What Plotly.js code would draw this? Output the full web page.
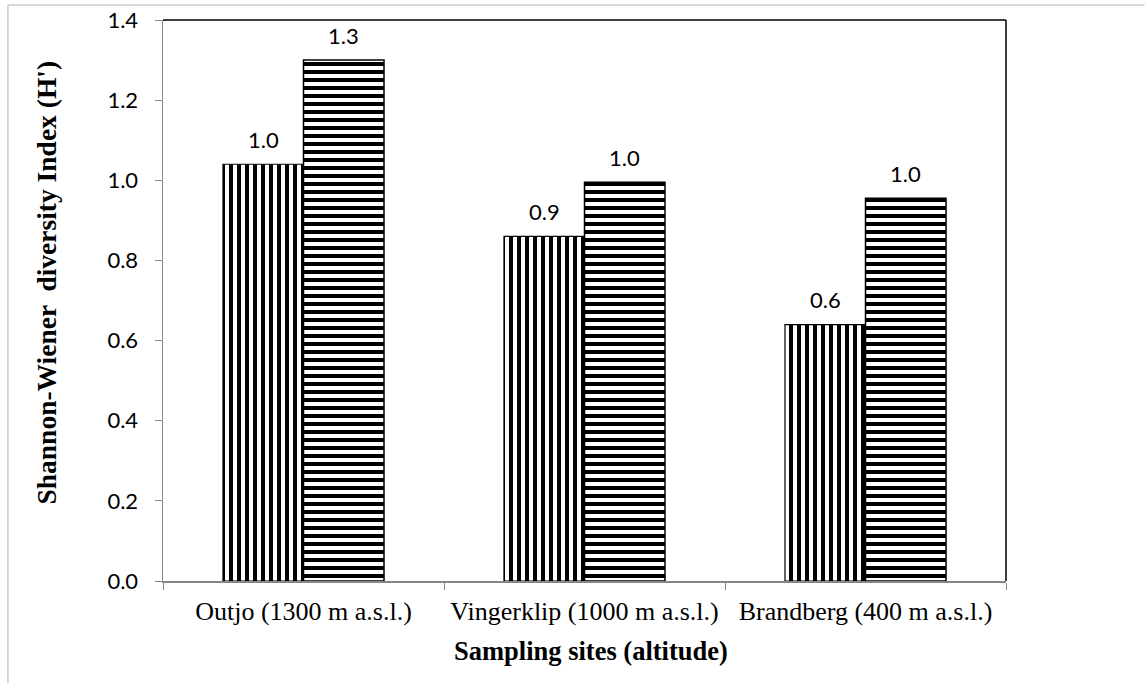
<!DOCTYPE html>
<html>
<head>
<meta charset="utf-8">
<script src="https://cdn.plot.ly/plotly-3.0.1.min.js"></script>
<style>html,body{margin:0;padding:0;background:#fff;}#chart{width:1147px;height:683px;}</style>
</head>
<body>
<div id="chart"></div>
<script>
// Data
const sites = ["Outjo (1300 m a.s.l.)", "Vingerklip (1000 m a.s.l.)", "Brandberg (400 m a.s.l.)"];
const seriesA = [1.04, 0.86, 0.64];   // vertical stripes
const seriesB = [1.30, 0.995, 0.955]; // horizontal stripes
const yTicks = [0, 0.2, 0.4, 0.6, 0.8, 1.0, 1.2, 1.4];
const xTitle = "Sampling sites (altitude)";
const yTitle = "Shannon-Wiener  diversity Index (H')";

const numFont = {family: "Lato, 'Liberation Sans', sans-serif", size: 22, color: "#000"};
const serif = "'Liberation Serif', 'Times New Roman', serif";

const traceA = {
  type: "bar", x: sites, y: seriesA, name: "A", showlegend: false,
  marker: {color: "white", line: {color: "#000", width: 1.2},
    pattern: {shape: "|", fgcolor: "#000", bgcolor: "#fff", size: 8, solidity: 0.5, fillmode: "replace"}},
  hoverinfo: "none"
};
const traceB = {
  type: "bar", x: sites, y: seriesB, name: "B", showlegend: false,
  marker: {color: "white", line: {color: "#000", width: 1.5},
    pattern: {shape: "-", fgcolor: "#000", bgcolor: "#fff", size: 8, solidity: 0.5, fillmode: "replace"}},
  hoverinfo: "none"
};

// Data labels via annotations attached to data coordinates
const annotations = [];
sites.forEach((s, i) => {
  annotations.push({x: s, y: seriesA[i], xref: "x", yref: "y", text: seriesA[i].toFixed(1),
    showarrow: false, xshift: -40, yshift: 25, yanchor: "middle", font: numFont});
  annotations.push({x: s, y: seriesB[i], xref: "x", yref: "y", text: seriesB[i].toFixed(1),
    showarrow: false, xshift: 40, yshift: 25, yanchor: "middle", font: numFont});
});
annotations.push({text: "<b>" + xTitle + "</b>", xref: "paper", yref: "paper", x: 0.508, y: -0.125,
  yanchor: "middle", showarrow: false, font: {family: serif, size: 26.5, color: "#000"}});
annotations.push({text: "<b>" + yTitle + "</b>", xref: "paper", yref: "paper", x: -0.1376, y: 0.532,
  xanchor: "center", yanchor: "middle", textangle: -90, showarrow: false, font: {family: serif, size: 27.5, color: "#000"}});

const layout = {
  width: 1147, height: 683,
  margin: {l: 163, r: 141, t: 20, b: 102},
  paper_bgcolor: "#fff", plot_bgcolor: "#fff",
  barmode: "group", bargap: 0.427, bargroupgap: 0,
  xaxis: {
    type: "category", showgrid: false, zeroline: false,
    showline: true, linecolor: "#868686", linewidth: 1.5,
    ticks: "outside", tickson: "boundaries", ticklen: 7, tickcolor: "#868686",
    tickfont: {family: serif, size: 26, color: "#000"}, ticklabelstandoff: 6
  },
  yaxis: {
    range: [0, 1.4], tickvals: yTicks, tickformat: ".1f",
    showgrid: false, zeroline: false,
    showline: true, linecolor: "#868686", linewidth: 1.5,
    ticks: "outside", ticklen: 7, tickcolor: "#868686",
    tickfont: numFont, ticklabelstandoff: 12
  },
  shapes: [
    {type: "line", xref: "paper", yref: "paper", x0: 0, x1: 1, y0: 1, y1: 1, line: {color: "#000", width: 1.5}},
    {type: "line", xref: "paper", yref: "paper", x0: 1, x1: 1, y0: 0, y1: 1, line: {color: "#000", width: 1.5}},
    {type: "line", xref: "paper", yref: "paper", x0: -0.1839, x1: 1.1645, y0: 1.0267, y1: 1.0267, line: {color: "#b0b0b0", width: 1}},
    {type: "line", xref: "paper", yref: "paper", x0: -0.1839, x1: -0.1839, y0: -0.19, y1: 1.0267, line: {color: "#b0b0b0", width: 1}}
  ],
  annotations: annotations
};

Plotly.newPlot("chart", [traceA, traceB], layout, {displayModeBar: false, staticPlot: true});
</script>
</body>
</html>
